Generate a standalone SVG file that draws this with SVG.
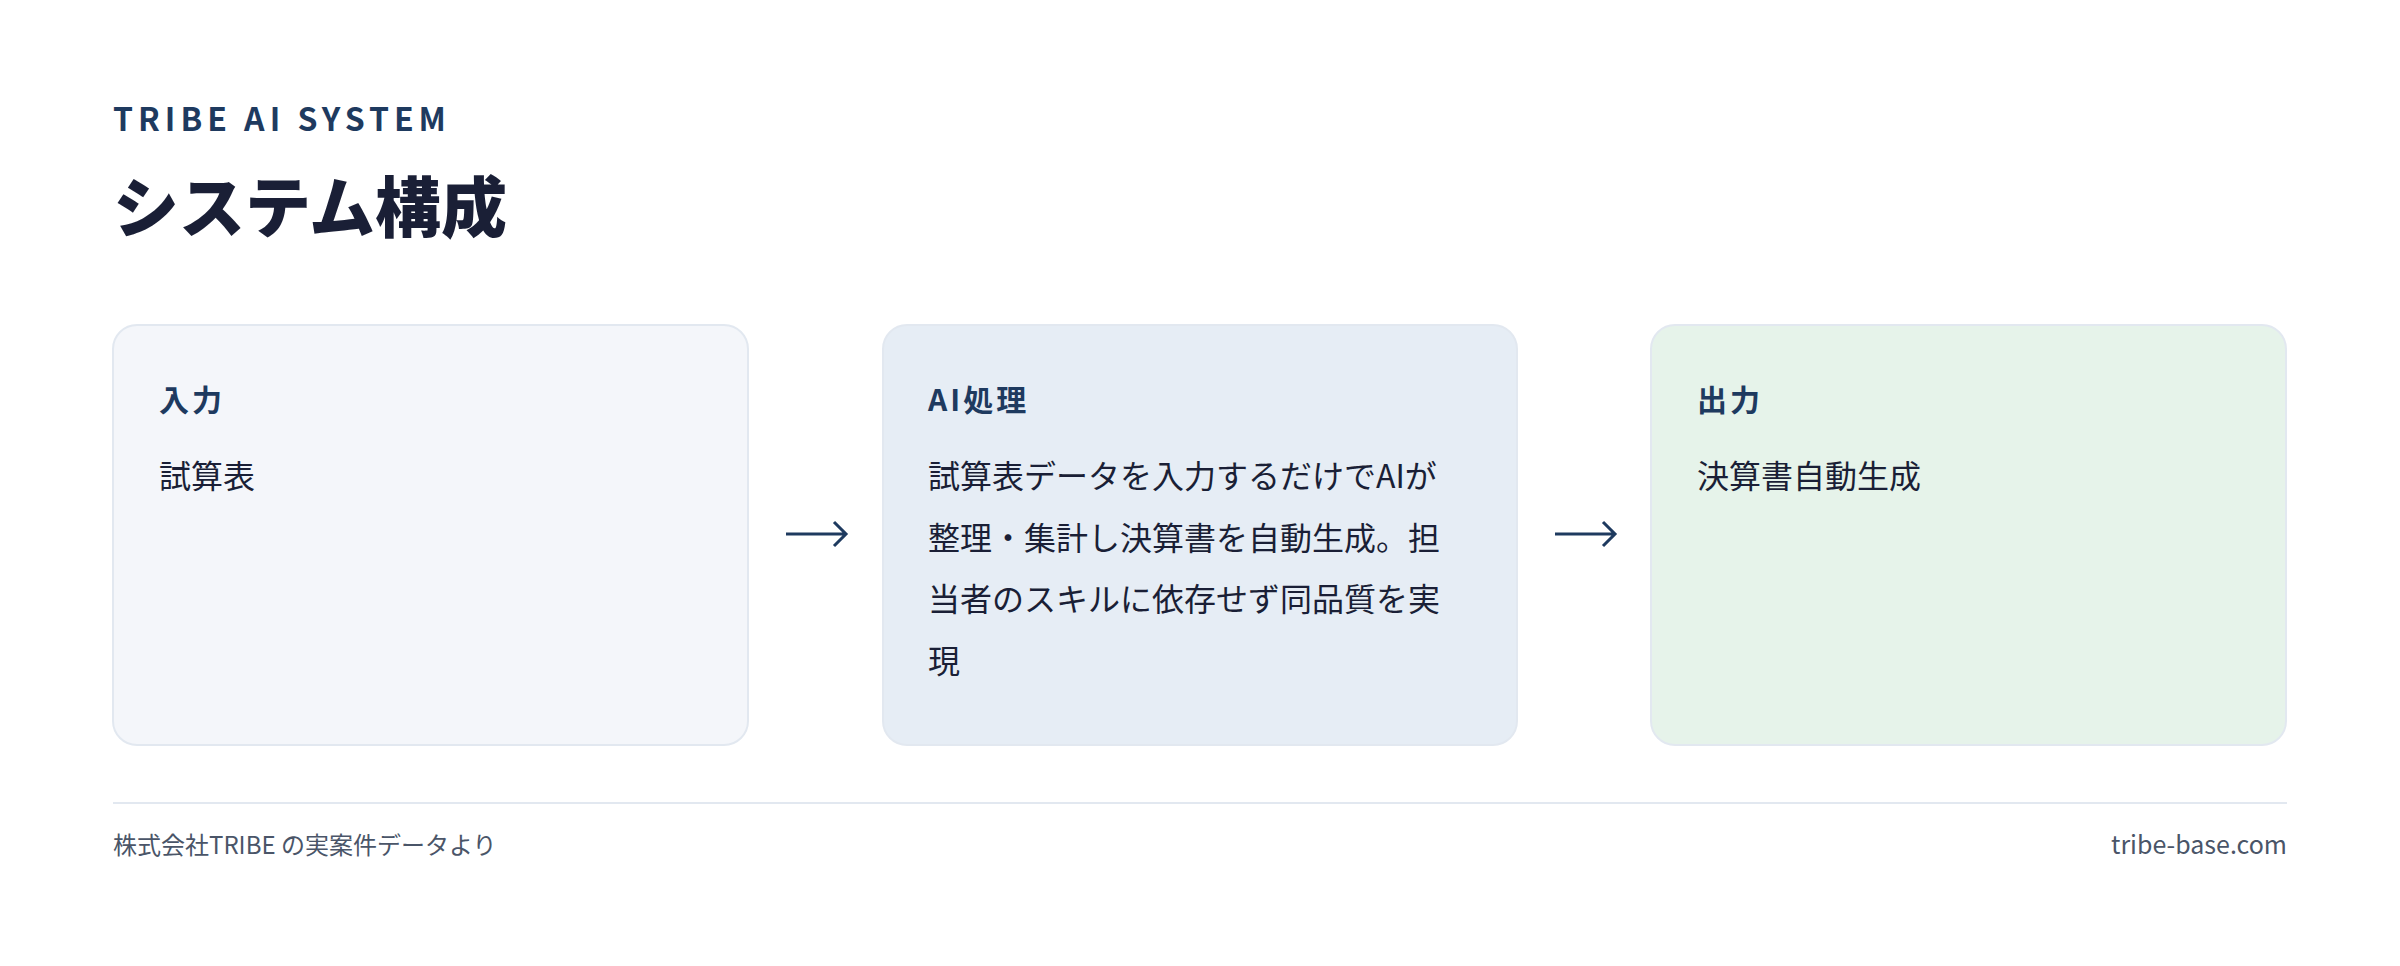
<svg xmlns="http://www.w3.org/2000/svg" width="2400" height="966" viewBox="0 0 2400 966">
<defs>
<style>
.cjk{font-family:"Noto Sans CJK JP","Noto Sans",sans-serif}
.card{stroke:#e2e8f0;stroke-width:2}
.h{font-size:30px;font-weight:700;fill:#1e3a5f;letter-spacing:3px}
.b{font-size:32px;fill:#1a1f36}
.arr{stroke:#1e3a5f;stroke-width:3;fill:none}
</style>
</defs>
<rect width="2400" height="966" fill="#ffffff"/>
<text x="113" y="131" class="cjk" font-size="32" font-weight="700" fill="#1e3a5f" letter-spacing="5">TRIBE AI SYSTEM</text>
<text x="113" y="232" class="cjk" font-size="66" font-weight="900" fill="#1a1f36">システム構成</text>
<g id="node-input">
<rect class="card" x="113" y="325" width="635" height="420" rx="24" fill="#f4f6fa"/>
<text x="159" y="411" class="cjk h">入力</text>
<text x="159" y="488" class="cjk b">試算表</text>
</g>
<g id="node-ai">
<rect class="card" x="883" y="325" width="634" height="420" rx="24" fill="#e6edf5"/>
<text x="928" y="411" class="cjk h">AI処理</text>
<text class="cjk b"><tspan x="928" y="488">試算表データを入力するだけでAIが</tspan><tspan x="928" y="550">整理・集計し決算書を自動生成。担</tspan><tspan x="928" y="611">当者のスキルに依存せず同品質を実</tspan><tspan x="928" y="673">現</tspan></text>
</g>
<g id="node-output">
<rect class="card" x="1651" y="325" width="635" height="420" rx="24" fill="#e6f3ea"/>
<text x="1697" y="411" class="cjk h">出力</text>
<text x="1697" y="488" class="cjk b">決算書自動生成</text>
</g>
<g id="connectors">
<path class="arr" d="M786 534 H846 M834 522 L846 534 L834 546"/>
<path class="arr" d="M1555 534 H1615 M1603 522 L1615 534 L1603 546"/>
</g>
<line x1="113" y1="803" x2="2287" y2="803" stroke="#e2e8f0" stroke-width="2"/>
<text x="113" y="854" class="cjk" font-size="24" fill="#4a5568">株式会社TRIBE の実案件データより</text>
<text x="2287" y="854" text-anchor="end" class="cjk" font-size="25" fill="#4a5568">tribe-base.com</text>
</svg>
